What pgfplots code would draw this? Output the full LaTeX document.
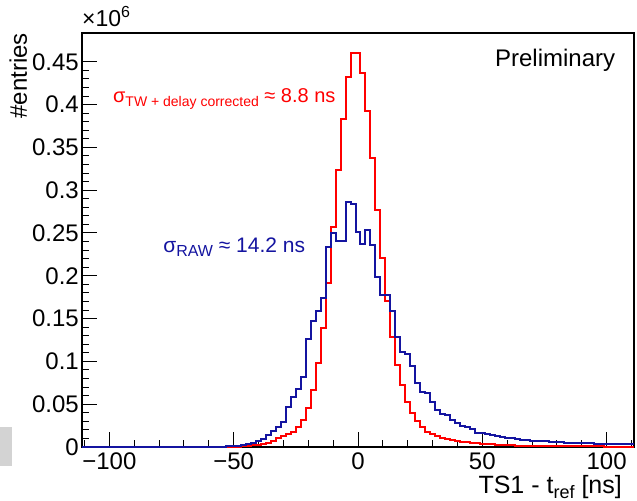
\documentclass[border=0pt]{standalone}
\usepackage{pgfplots}
\pgfplotsset{compat=1.18}
\usepackage{pgfplotstable}
\usepackage{fontspec}
\setmainfont{Liberation Sans}
\usetikzlibrary{calc}
\definecolor{rootred}{RGB}{255,0,0}
\definecolor{rootblue}{RGB}{20,20,160}
\definecolor{boxgray}{RGB}{211,211,211}

\pgfplotstableread{
x r b
-111 0 0.0001
-109 0 0.0001
-107 0 0.0001
-105 0 0.0001
-103 0 0.0001
-101 0 0.0001
-99 0 0.0001
-97 0 0.0001
-95 0 0.0001
-93 0 0.0001
-91 0 0.0001
-89 0 0.0001
-87 0 0.0001
-85 0 0.0001
-83 0 0.0001
-81 0 0.0001
-79 0 0.0001
-77 0 0.0001
-75 0 0.0001
-73 0 0.0001
-71 0 0.0002
-69 0 0.0002
-67 0 0.0002
-65 0 0.0002
-63 0 0.0002
-61 0 0.0002
-59 0 0.0002
-57 0 0.0003
-55 0.0001 0.0004
-53 0.0002 0.0006
-51 0.0003 0.0010
-49 0.0005 0.0016
-47 0.0008 0.0023
-45 0.0012 0.0035
-43 0.0018 0.0048
-41 0.0025 0.0074
-39 0.0035 0.0090
-37 0.0050 0.0145
-35 0.0074 0.0188
-33 0.0100 0.0233
-31 0.0125 0.0295
-29 0.0150 0.0471
-27 0.0180 0.0588
-25 0.0230 0.0682
-23 0.0320 0.0818
-21 0.0450 0.1260
-19 0.0666 0.1475
-17 0.0977 0.1590
-15 0.1386 0.1745
-13 0.1910 0.2340
-11 0.2572 0.2496
-9 0.3236 0.2412
-7 0.3830 0.2412
-5 0.4320 0.2858
-3 0.4606 0.2833
-1 0.4606 0.2512
1 0.4366 0.2374
3 0.3925 0.2540
5 0.3380 0.2364
7 0.2770 0.1980
9 0.2204 0.1780
11 0.1702 0.1780
13 0.1289 0.1585
15 0.0958 0.1289
17 0.0724 0.1110
19 0.0529 0.1083
21 0.0401 0.0946
23 0.0304 0.0751
25 0.0237 0.0646
27 0.0179 0.0627
29 0.0152 0.0529
31 0.0128 0.0432
33 0.0109 0.0386
35 0.0093 0.0374
37 0.0082 0.0315
39 0.0070 0.0277
41 0.0062 0.0245
43 0.0056 0.0237
45 0.0050 0.0207
47 0.0045 0.0167
49 0.0040 0.0160
51 0.0035 0.0155
53 0.0031 0.0140
55 0.0027 0.0125
57 0.0024 0.0118
59 0.0021 0.0110
61 0.0019 0.0100
63 0.0017 0.0090
65 0.0015 0.0085
67 0.0014 0.0080
69 0.0013 0.0075
71 0.0012 0.0072
73 0.0011 0.0069
75 0.0010 0.0066
77 0.0010 0.0062
79 0.0009 0.0058
81 0.0009 0.0055
83 0.0008 0.0052
85 0.0008 0.0050
87 0.0007 0.0048
89 0.0007 0.0046
91 0.0007 0.0044
93 0.0006 0.0042
95 0.0006 0.0040
97 0.0006 0.0039
99 0.0005 0.0038
101 0.0005 0.0037
103 0.0005 0.0036
105 0.0005 0.0035
107 0.0005 0.0034
109 0.0004 0.0033
111 0.0004 0.0033
}\histdata

\begin{document}
\begin{tikzpicture}
\begin{axis}[
  scale only axis,
  width=552bp, height=414bp,
  xmin=-111, xmax=111, ymin=0, ymax=0.4836,
  axis line style={black, line width=1.1bp},
  tick pos=left,
  tick align=inside,
  major tick length=15bp,
  minor tick length=7.5bp,
  tick style={black, line width=1bp},
  xtick={-100,-50,0,50,100},
  xticklabels={−100,−50,0,50,100},
  minor xtick={-110,-90,-80,-70,-60,-40,-30,-20,-10,10,20,30,40,60,70,80,90,110},
  ytick={0,0.05,0.1,0.15,0.2,0.25,0.3,0.35,0.4,0.45},
  yticklabels={0,0.05,0.1,0.15,0.2,0.25,0.3,0.35,0.4,0.45},
  minor y tick num=4,
  /pgf/number format/assume math mode=true,
  ticklabel style={font=\fontsize{24bp}{28bp}\selectfont},
  yticklabel style={anchor=east, inner sep=0pt, xshift=-3bp},
  xticklabel style={anchor=north, inner sep=0pt, yshift=-6bp},
  clip=true,
]
\addplot[const plot, draw=rootred, line width=2bp] table[x=x, y=r] {\histdata};
\addplot[const plot, draw=rootblue, line width=2bp] table[x=x, y=b] {\histdata};

\node[anchor=base west, inner sep=0pt, font=\fontsize{24bp}{28bp}\selectfont] at (rel axis cs:0.748,0.920) {Preliminary};
\node[anchor=base west, inner sep=0pt, text=rootred, font=\fontsize{20bp}{24bp}\selectfont] at (rel axis cs:0.056,0.833) {σ\raisebox{-4bp}{\fontsize{14bp}{16bp}\selectfont TW + delay corrected} ≈ 8.8 ns};
\node[anchor=base west, inner sep=0pt, text=rootblue, font=\fontsize{21bp}{24bp}\selectfont] at (rel axis cs:0.147,0.469) {σ\raisebox{-4bp}{\fontsize{16bp}{18bp}\selectfont RAW} ≈ 14.2 ns};
\end{axis}

\node[anchor=base west, inner sep=0pt, font=\fontsize{23bp}{26bp}\selectfont] at ($(current axis.north west)+(0bp,6bp)$) {×10\raisebox{9bp}{\fontsize{16bp}{18bp}\selectfont 6}};
\node[anchor=base east, inner sep=0pt, rotate=90, font=\fontsize{24bp}{28bp}\selectfont] at ($(current axis.north west)+(-55bp,0bp)$) {\#entries};
\node[anchor=base east, inner sep=0pt, font=\fontsize{25bp}{29bp}\selectfont] at ($(current axis.south east)+(-12bp,-46bp)$) {TS1 - t\raisebox{-5bp}{\fontsize{18bp}{21bp}\selectfont ref} [ns]};
\fill[boxgray] ($(current axis.south west)+(-82bp,-19bp)$) rectangle ($(current axis.south west)+(-70bp,20bp)$);

\pgfresetboundingbox
\path ($(current axis.south west)+(-82bp,-54bp)$) rectangle ($(current axis.north east)+(3bp,33bp)$);
\end{tikzpicture}
\end{document}
